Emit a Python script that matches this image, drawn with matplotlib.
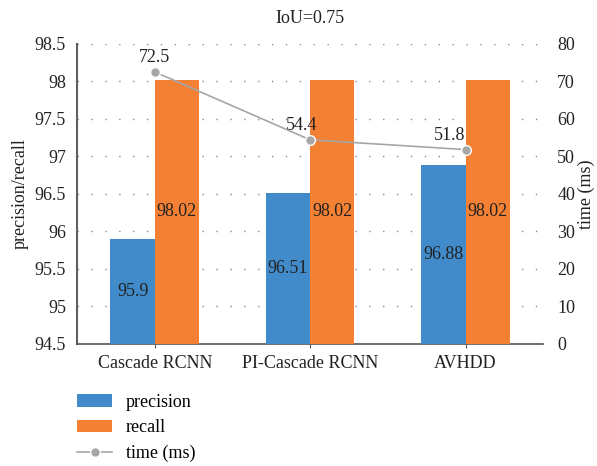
import numpy as np
import matplotlib.pyplot as plt

plt.rcParams['font.family'] = ['Liberation Serif', 'DejaVu Serif']

# data
models = ['Cascade RCNN', 'PI-Cascade RCNN', 'AVHDD']
precision = [95.9, 96.51, 96.88]
recall = [98.02, 98.02, 98.02]
time_ms = [72.5, 54.4, 51.8]

blue = '#418bca'
orange = '#f48033'
gray = '#a6a6a6'
txt = '#222222'
fs = 13

fig = plt.figure(figsize=(5.97, 4.66), dpi=100)
ax = fig.add_axes([0.129, 0.262, 0.781, 0.644])
ax2 = ax.twinx()

x = np.arange(len(models))
w = 0.285
b1 = ax.bar(x - w / 2, np.array(precision) - 94.5, w, bottom=94.5, color=blue, label='precision', zorder=3)
b2 = ax.bar(x + w / 2, np.array(recall) - 94.5, w, bottom=94.5, color=orange, label='recall', zorder=3)

for i in range(len(models)):
    ax.text(x[i] - w / 2, (94.5 + precision[i]) / 2, f'{precision[i]:g}', ha='center', va='center',
            fontsize=fs, color=txt, zorder=4)
    ax.text(x[i] + w / 2, (94.5 + recall[i]) / 2, f'{recall[i]:g}', ha='center', va='center',
            fontsize=fs, color=txt, zorder=4)

ax.set_ylim(94.5, 98.5)
ax.set_yticks(np.arange(94.5, 98.51, 0.5))
ax.set_yticklabels(['94.5', '95', '95.5', '96', '96.5', '97', '97.5', '98', '98.5'])
ax.set_xlim(-0.5, 2.5)
ax.set_xticks(x)
ax.set_xticklabels(models)
ax.grid(axis='y', color='#888888', linestyle=(0, (1, 9)), linewidth=1, zorder=0)
ax.set_axisbelow(True)
ax.set_ylabel('precision/recall', fontsize=fs, color=txt, labelpad=4)
ax.tick_params(axis='y', length=0, labelsize=fs, labelcolor=txt, pad=8)
ax.tick_params(axis='x', length=3, color='#555555', labelsize=fs, labelcolor=txt, pad=5)
for s in ['top', 'right']:
    ax.spines[s].set_visible(False)
ax.spines['left'].set_color('#606060')
ax.spines['left'].set_linewidth(1.5)
ax.spines['bottom'].set_color('#555555')
ax.spines['bottom'].set_linewidth(1.2)

line, = ax2.plot(x, time_ms, color=gray, linewidth=1.2, marker='o', markersize=7,
                 markerfacecolor=gray, markeredgecolor='white', markeredgewidth=1,
                 label='time (ms)', zorder=5)
aligns = ['center', 'right', 'right']
dxs = [0, 5, 0]
for i in range(len(models)):
    ax2.annotate(f'{time_ms[i]:g}', (x[i], time_ms[i]), xytext=(dxs[i], 4), textcoords='offset points',
                 ha=aligns[i], va='bottom', fontsize=fs, color=txt)
ax2.set_ylim(0, 80)
ax2.set_yticks(np.arange(0, 81, 10))
ax2.tick_params(axis='y', length=0, labelsize=fs, labelcolor=txt, pad=10)
ax2.set_ylabel('time (ms)', fontsize=fs, color=txt, labelpad=2)
for s in ax2.spines.values():
    s.set_visible(False)

fig.text(0.52, 0.961, 'IoU=0.75', ha='center', va='center', fontsize=fs, color=txt)

fig.legend(handles=[b1, b2, line], loc='upper left', bbox_to_anchor=(0.102, 0.19),
           frameon=False, fontsize=fs, handlelength=1.95, labelspacing=0.48, handletextpad=0.75)

fig.savefig('out.png', dpi=100)
